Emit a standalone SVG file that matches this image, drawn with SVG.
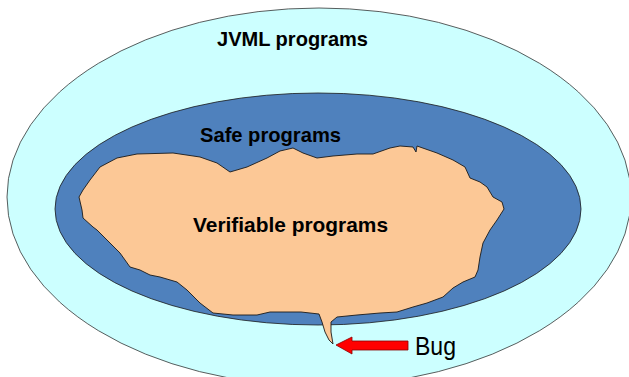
<svg xmlns="http://www.w3.org/2000/svg" width="629" height="377" viewBox="0 0 629 377">
<style>
.lbl{font-family:"Liberation Sans",Arial,sans-serif;font-weight:bold;font-size:21px;fill:#000}
.bug{font-family:"Liberation Sans",Arial,sans-serif;font-size:25px;fill:#000}
</style>
<rect width="629" height="377" fill="#fff"/>
<g id="jvml">
<ellipse cx="319" cy="197" rx="312" ry="189" fill="#CCFFFF" stroke="#333" stroke-width="0.8"/>
<text class="lbl" x="292.5" y="46" text-anchor="middle" textLength="151" lengthAdjust="spacingAndGlyphs">JVML programs</text>
</g>
<g id="safe">
<ellipse cx="318" cy="209" rx="263" ry="116" fill="#4F81BD" stroke="#1a1a1a" stroke-width="0.8"/>
<text class="lbl" x="270.5" y="142" text-anchor="middle" textLength="141" lengthAdjust="spacingAndGlyphs">Safe programs</text>
</g>
<g id="verifiable">
<path fill="#FCC896" stroke="#1a1a1a" stroke-width="0.9" stroke-linejoin="round" d="M137,154 L173,153 L200,157 L217,163 L230,172 L247,167 L267,158 L280,151 L293,148 L303,153 L317,158 L333,156 L357,154 L373,154 L390,148 L400,146 L413,147 L416,152 L417,146 L437,153 L453,160 L465,167 L470,178 L480,182 L487,187 L493,197 L502,202 L504,209 L497,220 L490,230 L483,243 L480,257 L478,270 L475,277 L463,282 L453,288 L443,297 L427,303 L413,307 L397,312 L380,313 L357,315 L337,317 L331,322 L331,332 L333,344 L329,340 L325,332 L322,322 L319,314 L301,312 L290,312 L270,312 L257,315 L233,315 L213,313 L200,303 L187,290 L177,282 L160,277 L150,275 L140,270 L130,267 L120,253 L107,240 L97,230 L93,227 L83,218 L82,210 L79,197 L83,190 L90,180 L100,167 L117,158 Z"/>
<text class="lbl" x="290.5" y="232" text-anchor="middle" textLength="195" lengthAdjust="spacingAndGlyphs">Verifiable programs</text>
</g>
<g id="bug">
<text class="bug" x="415" y="355" textLength="41" lengthAdjust="spacingAndGlyphs">Bug</text>
</g>
<g id="connectors">
<polygon points="336,345 352,337 352,341 408,341 408,350 352,350 352,354" fill="#FF0000" stroke="#8B0000" stroke-width="0.8"/>
</g>
</svg>
